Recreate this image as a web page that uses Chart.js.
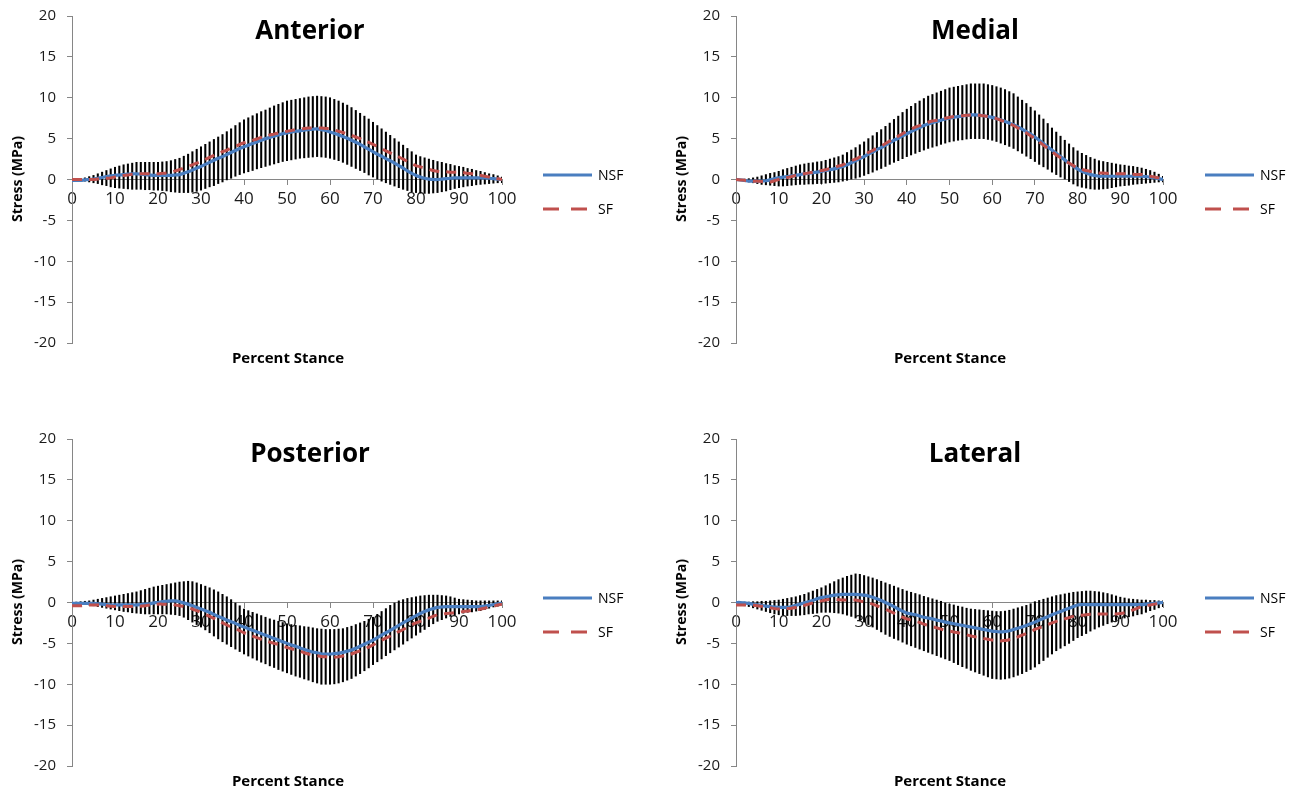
<!DOCTYPE html>
<html><head><meta charset="utf-8">
<script src="https://cdn.jsdelivr.net/npm/chart.js@4.4.1/dist/chart.umd.min.js"></script>
<style>
html,body{margin:0;padding:0;background:#fff;width:1300px;height:790px;overflow:hidden;font-family:'Open Sans',sans-serif;}
canvas{position:absolute;}
.title{position:absolute;font-weight:bold;font-size:26px;line-height:30px;color:#000;transform:translateX(-50%);white-space:nowrap;}
.xt{position:absolute;font-weight:bold;font-size:15px;line-height:16px;color:#000;transform:translateX(-50%);white-space:nowrap;}
.yt{position:absolute;font-weight:bold;font-size:14px;line-height:16px;color:#000;white-space:nowrap;transform:translate(-50%,-50%) rotate(-90deg);}
.legtxt{position:absolute;font-size:14px;line-height:16px;color:#000;white-space:nowrap;}
svg.leg{position:absolute;overflow:visible;}
</style>
</head><body>
<script>
// ---------- categories & ticks ----------
const pct = [0,1,2,3,4,5,6,7,8,9,10,11,12,13,14,15,16,17,18,19,20,21,22,23,24,25,26,27,28,29,30,31,32,33,34,35,36,37,38,39,40,41,42,43,44,45,46,47,48,49,50,51,52,53,54,55,56,57,58,59,60,61,62,63,64,65,66,67,68,69,70,71,72,73,74,75,76,77,78,79,80,81,82,83,84,85,86,87,88,89,90,91,92,93,94,95,96,97,98,99,100];
const xTicks = [0,10,20,30,40,50,60,70,80,90,100];
const yTicks = [-20,-15,-10,-5,0,5,10,15,20];
const panelTitles = ['Anterior','Medial','Posterior','Lateral'];
const seriesNames = ['NSF','SF'];

// ---------- Anterior ----------
const anteriorNSF = [
-0.1,-0.1,-0.1,-0.05,0.0,0.05,
0.15,0.25,0.35,0.45,0.5,
0.55,0.6,0.65,0.7,0.7,
0.65,0.6,0.55,0.5,0.5,
0.5,0.5,0.5,0.55,0.6,
0.75,0.95,1.15,1.4,1.6,
1.85,2.1,2.35,2.6,2.8,
3.05,3.3,3.55,3.8,4.0,
4.2,4.4,4.6,4.8,5.0,
5.15,5.3,5.45,5.6,5.7,
5.8,5.9,5.95,6.05,6.1,
6.15,6.2,6.1,6.0,5.8,
5.65,5.45,5.25,5.05,4.8,
4.55,4.3,4.0,3.7,3.4,
3.1,2.85,2.55,2.3,2.0,
1.7,1.4,1.05,0.75,0.5,
0.3,0.15,0.05,0.0,0.0,
0.05,0.1,0.15,0.2,0.2,
0.2,0.2,0.2,0.2,0.2,
0.2,0.15,0.1,0.05,0.0];
const anteriorSF = [
0.0,0.0,0.0,0.0,0.0,0.0,
0.05,0.1,0.15,0.2,0.3,
0.4,0.5,0.55,0.65,0.7,
0.7,0.7,0.7,0.7,0.7,
0.75,0.8,0.9,1.05,1.2,
1.4,1.6,1.8,2.0,2.2,
2.45,2.7,2.95,3.2,3.4,
3.6,3.85,4.05,4.3,4.5,
4.65,4.8,4.95,5.15,5.3,
5.45,5.55,5.7,5.8,5.9,
6.0,6.1,6.15,6.25,6.3,
6.3,6.3,6.3,6.25,6.2,
6.05,5.9,5.75,5.6,5.4,
5.2,5.0,4.75,4.55,4.3,
4.05,3.8,3.5,3.25,3.0,
2.75,2.5,2.2,1.95,1.7,
1.55,1.4,1.25,1.1,1.0,
0.95,0.95,0.9,0.9,0.9,
0.85,0.75,0.7,0.6,0.5,
0.4,0.3,0.2,0.1,0.0];
const anteriorHigh = [
0.0,0.05,0.1,0.2,0.35,0.5,
0.7,0.9,1.1,1.3,1.5,
1.65,1.8,1.9,2.0,2.1,
2.1,2.1,2.1,2.1,2.1,
2.15,2.2,2.3,2.45,2.6,
2.85,3.1,3.4,3.7,4.0,
4.3,4.6,4.9,5.2,5.5,
5.85,6.2,6.6,6.95,7.3,
7.55,7.8,8.05,8.3,8.5,
8.75,9.0,9.2,9.4,9.6,
9.7,9.8,9.9,10.0,10.1,
10.15,10.2,10.15,10.1,10.0,
9.8,9.6,9.35,9.1,8.8,
8.45,8.1,7.75,7.4,7.0,
6.6,6.2,5.8,5.4,5.0,
4.6,4.2,3.8,3.4,3.0,
2.8,2.65,2.5,2.35,2.2,
2.1,1.95,1.85,1.7,1.6,
1.5,1.35,1.25,1.1,1.0,
0.85,0.7,0.6,0.45,0.3];
const anteriorLow = [
0.0,-0.05,-0.1,-0.2,-0.3,-0.4,
-0.5,-0.65,-0.75,-0.9,-1.0,
-1.05,-1.1,-1.15,-1.2,-1.2,
-1.2,-1.25,-1.25,-1.3,-1.3,
-1.35,-1.4,-1.5,-1.55,-1.6,
-1.6,-1.6,-1.55,-1.45,-1.3,
-1.1,-0.9,-0.75,-0.5,-0.3,
-0.05,0.15,0.4,0.6,0.8,
0.95,1.1,1.3,1.45,1.6,
1.75,1.9,2.05,2.2,2.3,
2.4,2.5,2.6,2.65,2.7,
2.75,2.8,2.75,2.7,2.6,
2.45,2.3,2.1,1.85,1.6,
1.35,1.1,0.85,0.55,0.3,
0.05,-0.2,-0.4,-0.6,-0.8,
-1.0,-1.2,-1.35,-1.5,-1.6,
-1.65,-1.7,-1.7,-1.65,-1.6,
-1.5,-1.4,-1.25,-1.1,-1.0,
-0.9,-0.8,-0.75,-0.65,-0.6,
-0.55,-0.5,-0.45,-0.4,-0.4];

// ---------- Medial ----------
const medialNSF = [
0.0,-0.05,-0.1,-0.2,-0.2,-0.2,
-0.2,-0.15,-0.05,0.1,0.2,
0.3,0.35,0.45,0.5,0.6,
0.7,0.75,0.85,0.9,1.0,
1.1,1.2,1.3,1.45,1.6,
1.8,2.05,2.3,2.55,2.8,
3.1,3.35,3.65,3.9,4.2,
4.5,4.8,5.05,5.35,5.6,
5.85,6.1,6.35,6.6,6.8,
6.95,7.1,7.25,7.4,7.5,
7.6,7.7,7.75,7.85,7.9,
7.9,7.85,7.8,7.7,7.6,
7.45,7.3,7.1,6.9,6.7,
6.45,6.15,5.85,5.55,5.2,
4.8,4.4,4.0,3.6,3.2,
2.8,2.4,2.0,1.6,1.3,
1.0,0.8,0.6,0.5,0.4,
0.4,0.4,0.4,0.4,0.4,
0.4,0.4,0.4,0.4,0.4,
0.35,0.3,0.2,0.1,0.0];
const medialSF = [
0.0,-0.05,-0.1,-0.15,-0.2,-0.2,
-0.25,-0.3,-0.3,-0.15,0.0,
0.15,0.25,0.35,0.5,0.6,
0.7,0.8,0.9,1.0,1.1,
1.2,1.35,1.5,1.65,1.8,
2.05,2.3,2.5,2.75,3.0,
3.3,3.55,3.85,4.1,4.4,
4.7,5.0,5.3,5.6,5.9,
6.15,6.4,6.6,6.8,7.0,
7.15,7.25,7.4,7.5,7.6,
7.7,7.75,7.8,7.85,7.9,
7.9,7.85,7.8,7.7,7.6,
7.45,7.25,7.05,6.85,6.6,
6.3,6.0,5.7,5.35,5.0,
4.6,4.2,3.8,3.4,3.0,
2.65,2.3,2.0,1.7,1.4,
1.25,1.1,1.0,0.9,0.8,
0.8,0.75,0.75,0.7,0.7,
0.7,0.65,0.65,0.6,0.6,
0.5,0.4,0.3,0.2,0.1];
const medialHigh = [
0.0,0.0,0.05,0.1,0.2,0.3,
0.45,0.6,0.75,0.85,1.0,
1.2,1.35,1.5,1.65,1.8,
1.9,2.0,2.05,2.15,2.2,
2.35,2.5,2.65,2.8,3.0,
3.3,3.6,3.9,4.25,4.6,
5.0,5.35,5.75,6.1,6.5,
6.9,7.35,7.75,8.2,8.6,
8.95,9.3,9.6,9.9,10.2,
10.4,10.6,10.8,11.0,11.2,
11.3,11.4,11.5,11.6,11.7,
11.7,11.7,11.7,11.6,11.5,
11.35,11.2,11.0,10.75,10.5,
10.1,9.7,9.3,8.85,8.4,
7.9,7.4,6.85,6.3,5.8,
5.3,4.8,4.35,3.9,3.5,
3.2,2.95,2.7,2.5,2.3,
2.2,2.1,2.0,1.9,1.8,
1.75,1.65,1.6,1.5,1.4,
1.25,1.1,0.9,0.65,0.4];
const medialLow = [
0.0,-0.1,-0.2,-0.3,-0.4,-0.5,
-0.6,-0.65,-0.7,-0.75,-0.8,
-0.8,-0.75,-0.7,-0.65,-0.6,
-0.6,-0.55,-0.55,-0.5,-0.5,
-0.45,-0.4,-0.35,-0.3,-0.2,
-0.1,0.05,0.15,0.3,0.5,
0.7,0.9,1.15,1.35,1.6,
1.85,2.1,2.3,2.55,2.8,
3.0,3.2,3.4,3.6,3.8,
3.95,4.1,4.3,4.45,4.6,
4.7,4.8,4.85,4.95,5.0,
5.0,5.0,5.0,4.9,4.8,
4.65,4.45,4.25,4.05,3.8,
3.5,3.2,2.85,2.55,2.2,
1.85,1.55,1.25,0.9,0.6,
0.3,0.0,-0.25,-0.55,-0.8,
-0.95,-1.05,-1.15,-1.2,-1.2,
-1.15,-1.1,-1.0,-0.9,-0.8,
-0.75,-0.7,-0.6,-0.55,-0.5,
-0.45,-0.4,-0.35,-0.3,-0.3];

// ---------- Posterior ----------
const posteriorNSF = [
-0.1,-0.1,-0.1,-0.1,-0.1,-0.1,
-0.15,-0.2,-0.25,-0.3,-0.3,
-0.3,-0.3,-0.3,-0.3,-0.3,
-0.25,-0.2,-0.15,-0.05,0.0,
0.1,0.15,0.2,0.2,0.1,
-0.05,-0.2,-0.4,-0.6,-0.8,
-1.0,-1.2,-1.45,-1.7,-1.9,
-2.15,-2.35,-2.55,-2.8,-3.0,
-3.2,-3.4,-3.6,-3.8,-4.0,
-4.2,-4.4,-4.6,-4.8,-5.0,
-5.2,-5.35,-5.55,-5.75,-5.9,
-6.05,-6.15,-6.3,-6.3,-6.3,
-6.25,-6.2,-6.1,-5.95,-5.8,
-5.6,-5.35,-5.1,-4.85,-4.6,
-4.3,-4.0,-3.7,-3.4,-3.1,
-2.8,-2.5,-2.2,-1.9,-1.6,
-1.35,-1.1,-0.9,-0.75,-0.6,
-0.55,-0.5,-0.5,-0.5,-0.5,
-0.5,-0.5,-0.5,-0.5,-0.5,
-0.45,-0.35,-0.25,-0.15,-0.1];
const posteriorSF = [
-0.4,-0.4,-0.4,-0.35,-0.3,-0.3,
-0.3,-0.35,-0.4,-0.45,-0.5,
-0.5,-0.5,-0.5,-0.5,-0.5,
-0.45,-0.4,-0.3,-0.25,-0.2,
-0.2,-0.2,-0.2,-0.3,-0.4,
-0.5,-0.65,-0.8,-1.0,-1.2,
-1.45,-1.7,-1.95,-2.25,-2.5,
-2.75,-3.0,-3.2,-3.45,-3.7,
-3.9,-4.1,-4.3,-4.5,-4.7,
-4.85,-5.0,-5.15,-5.35,-5.5,
-5.65,-5.8,-5.95,-6.15,-6.3,
-6.4,-6.5,-6.6,-6.65,-6.7,
-6.7,-6.65,-6.55,-6.45,-6.3,
-6.1,-5.9,-5.7,-5.45,-5.2,
-4.9,-4.65,-4.35,-4.1,-3.8,
-3.55,-3.3,-3.0,-2.75,-2.5,
-2.3,-2.1,-1.9,-1.7,-1.5,
-1.45,-1.35,-1.3,-1.25,-1.2,
-1.1,-1.05,-0.95,-0.9,-0.8,
-0.7,-0.55,-0.45,-0.3,-0.2];
const posteriorHigh = [
0.0,0.05,0.1,0.15,0.2,0.3,
0.4,0.5,0.6,0.7,0.8,
0.9,1.0,1.1,1.2,1.3,
1.45,1.6,1.75,1.9,2.0,
2.1,2.2,2.3,2.4,2.5,
2.55,2.6,2.55,2.4,2.2,
2.0,1.8,1.55,1.3,1.0,
0.7,0.35,0.0,-0.4,-0.8,
-1.0,-1.2,-1.4,-1.6,-1.8,
-2.0,-2.15,-2.3,-2.45,-2.6,
-2.7,-2.8,-2.85,-2.95,-3.0,
-3.1,-3.2,-3.25,-3.3,-3.3,
-3.3,-3.25,-3.2,-3.05,-2.9,
-2.7,-2.5,-2.3,-2.05,-1.8,
-1.45,-1.1,-0.75,-0.35,0.0,
0.2,0.35,0.5,0.6,0.7,
0.8,0.85,0.9,0.9,0.9,
0.85,0.8,0.7,0.55,0.4,
0.35,0.3,0.25,0.2,0.2,
0.2,0.2,0.2,0.2,0.2];
const posteriorLow = [
0.0,-0.1,-0.15,-0.25,-0.3,-0.4,
-0.5,-0.6,-0.7,-0.8,-0.9,
-1.0,-1.1,-1.15,-1.25,-1.3,
-1.35,-1.4,-1.4,-1.4,-1.4,
-1.4,-1.4,-1.45,-1.5,-1.6,
-1.8,-2.1,-2.4,-2.7,-3.0,
-3.35,-3.7,-4.1,-4.45,-4.8,
-5.1,-5.4,-5.7,-6.0,-6.3,
-6.55,-6.8,-7.05,-7.3,-7.5,
-7.75,-7.95,-8.2,-8.4,-8.6,
-8.8,-9.0,-9.15,-9.35,-9.5,
-9.7,-9.85,-10.0,-10.0,-10.0,
-9.95,-9.85,-9.7,-9.5,-9.3,
-9.0,-8.7,-8.35,-8.0,-7.6,
-7.25,-6.9,-6.5,-6.15,-5.8,
-5.45,-5.1,-4.7,-4.35,-4.0,
-3.65,-3.3,-2.95,-2.6,-2.3,
-2.1,-1.9,-1.7,-1.55,-1.4,
-1.3,-1.2,-1.15,-1.05,-1.0,
-0.85,-0.7,-0.55,-0.45,-0.3];

// ---------- Lateral ----------
const lateralNSF = [
0.0,0.0,-0.05,-0.1,-0.2,-0.3,
-0.35,-0.45,-0.5,-0.55,-0.6,
-0.6,-0.6,-0.5,-0.35,-0.2,
-0.05,0.1,0.25,0.45,0.6,
0.7,0.8,0.9,0.95,1.0,
1.0,1.0,1.0,0.95,0.9,
0.8,0.65,0.45,0.25,0.0,
-0.25,-0.5,-0.8,-1.05,-1.3,
-1.4,-1.5,-1.65,-1.8,-1.9,
-2.0,-2.15,-2.25,-2.4,-2.5,
-2.6,-2.7,-2.8,-2.9,-3.0,
-3.1,-3.2,-3.3,-3.4,-3.5,
-3.55,-3.6,-3.55,-3.45,-3.3,
-3.15,-3.0,-2.8,-2.6,-2.4,
-2.15,-1.95,-1.75,-1.5,-1.3,
-1.1,-0.9,-0.7,-0.5,-0.3,
-0.25,-0.25,-0.25,-0.25,-0.25,
-0.25,-0.25,-0.25,-0.25,-0.25,
-0.25,-0.25,-0.25,-0.25,-0.25,
-0.2,-0.15,-0.1,-0.05,0.0];
const lateralSF = [
-0.3,-0.3,-0.3,-0.35,-0.35,-0.4,
-0.45,-0.55,-0.65,-0.75,-0.8,
-0.8,-0.75,-0.7,-0.6,-0.5,
-0.35,-0.2,-0.05,0.1,0.2,
0.3,0.4,0.4,0.35,0.3,
0.3,0.3,0.3,0.2,0.1,
-0.05,-0.2,-0.4,-0.6,-0.8,
-1.05,-1.3,-1.55,-1.8,-2.0,
-2.15,-2.3,-2.45,-2.65,-2.8,
-2.95,-3.1,-3.25,-3.4,-3.5,
-3.6,-3.7,-3.85,-3.95,-4.1,
-4.2,-4.3,-4.4,-4.5,-4.6,
-4.65,-4.7,-4.65,-4.55,-4.4,
-4.2,-4.0,-3.8,-3.6,-3.3,
-3.1,-2.9,-2.7,-2.5,-2.3,
-2.15,-2.0,-1.85,-1.7,-1.6,
-1.55,-1.5,-1.45,-1.4,-1.4,
-1.4,-1.4,-1.4,-1.4,-1.35,
-1.25,-1.1,-0.9,-0.7,-0.5,
-0.4,-0.3,-0.2,-0.15,-0.1];
const lateralHigh = [
0.0,0.0,0.05,0.05,0.1,0.1,
0.15,0.15,0.2,0.25,0.3,
0.4,0.5,0.6,0.7,0.85,
1.0,1.2,1.4,1.6,1.8,
2.05,2.3,2.55,2.8,3.0,
3.2,3.35,3.5,3.45,3.3,
3.15,3.0,2.8,2.6,2.4,
2.2,2.0,1.8,1.6,1.4,
1.25,1.1,0.95,0.75,0.6,
0.45,0.3,0.15,0.0,-0.2,
-0.3,-0.45,-0.55,-0.7,-0.8,
-0.85,-0.9,-0.95,-1.0,-1.05,
-1.1,-1.1,-1.05,-0.95,-0.8,
-0.65,-0.5,-0.35,-0.15,0.1,
0.25,0.4,0.55,0.7,0.85,
0.95,1.05,1.15,1.25,1.3,
1.35,1.4,1.4,1.35,1.3,
1.2,1.1,0.95,0.8,0.65,
0.55,0.45,0.4,0.35,0.3,
0.3,0.25,0.25,0.2,0.2];
const lateralLow = [
-0.2,-0.3,-0.4,-0.5,-0.65,-0.8,
-0.95,-1.1,-1.25,-1.4,-1.5,
-1.55,-1.6,-1.6,-1.6,-1.55,
-1.5,-1.4,-1.35,-1.3,-1.2,
-1.2,-1.2,-1.25,-1.3,-1.4,
-1.55,-1.7,-1.9,-2.15,-2.4,
-2.7,-3.0,-3.3,-3.6,-3.9,
-4.15,-4.4,-4.6,-4.85,-5.1,
-5.3,-5.5,-5.7,-5.9,-6.1,
-6.3,-6.5,-6.7,-6.9,-7.1,
-7.35,-7.6,-7.85,-8.05,-8.3,
-8.5,-8.7,-8.9,-9.1,-9.3,
-9.35,-9.4,-9.35,-9.25,-9.1,
-8.9,-8.7,-8.45,-8.2,-7.9,
-7.5,-7.1,-6.7,-6.3,-5.9,
-5.6,-5.3,-5.0,-4.65,-4.3,
-4.05,-3.8,-3.5,-3.25,-3.0,
-2.8,-2.6,-2.4,-2.2,-2.0,
-1.9,-1.75,-1.65,-1.5,-1.4,
-1.2,-1.0,-0.85,-0.65,-0.5];

// ---------- layout / styling ----------
const BLUE = '#4A7EC0', RED = '#C0504D', AXIS = '#868686';
const FONT = "'Open Sans', sans-serif";
const panels = [
  {title: panelTitles[0], nsf: anteriorNSF, sf: anteriorSF, hi: anteriorHigh, lo: anteriorLow, left: 0,   top: 0,   axisW: 72, padR: 148, titleX: 310, xtX: 288, ytX: 17,  legX: 543},
  {title: panelTitles[1], nsf: medialNSF,   sf: medialSF,   hi: medialHigh,   lo: medialLow,   left: 650, top: 0,   axisW: 86, padR: 137, titleX: 975, xtX: 950, ytX: 681, legX: 1205},
  {title: panelTitles[2], nsf: posteriorNSF,sf: posteriorSF,hi: posteriorHigh,lo: posteriorLow,left: 0,   top: 423, axisW: 72, padR: 148, titleX: 310, xtX: 288, ytX: 17,  legX: 543},
  {title: panelTitles[3], nsf: lateralNSF,  sf: lateralSF,  hi: lateralHigh,  lo: lateralLow,  left: 650, top: 423, axisW: 86, padR: 137, titleX: 975, xtX: 950, ytX: 681, legX: 1205}
];
const CW = 650, CH = 380, CANVAS_SHIFT = -4;

function addDiv(cls, text, style) {
  const d = document.createElement('div');
  d.className = cls; d.textContent = text;
  Object.assign(d.style, style);
  document.body.appendChild(d);
  return d;
}

panels.forEach(p => {
  const c = document.createElement('canvas');
  c.width = CW; c.height = CH;
  c.style.left = p.left + 'px'; c.style.top = (p.top + CANVAS_SHIFT) + 'px';
  c.style.width = CW + 'px'; c.style.height = CH + 'px';
  document.body.appendChild(c);

  new Chart(c.getContext('2d'), {
    type: 'line',
    data: {
      labels: pct,
      datasets: [
        {label: seriesNames[1], data: p.sf, borderColor: RED, borderWidth: 3, borderDash: [10, 7],
         pointRadius: 0, tension: 0.4, fill: false, order: 1},
        {label: seriesNames[0], data: p.nsf, borderColor: BLUE, borderWidth: 3.2,
         pointRadius: 0, tension: 0.4, fill: false, order: 2},
        {type: 'bar', label: 'SD', data: pct.map((x, i) => ({x: x, y: [p.lo[i], p.hi[i]]})),
         backgroundColor: '#000', borderWidth: 0, barThickness: 1.4, grouped: false, order: 3}
      ]
    },
    options: {
      responsive: false, animation: false, devicePixelRatio: 1,
      layout: {padding: {left: 0, top: 14, right: p.padR, bottom: 33}},
      plugins: {legend: {display: false}, tooltip: {enabled: false}, title: {display: false}},
      scales: {
        x: {
          type: 'linear', min: 0, max: 100, offset: false,
          position: {y: 0},
          afterBuildTicks: s => { s.ticks = xTicks.map(v => ({value: v})); },
          afterFit: s => { s.height = 20; },
          grid: {drawOnChartArea: false, drawTicks: true, tickLength: 5, color: AXIS, offset: false},
          border: {display: true, color: AXIS, width: 1},
          ticks: {color: '#1a1a1a', font: {family: FONT, size: 17}, padding: 4, maxRotation: 0, autoSkip: false}
        },
        y: {
          type: 'linear', min: -20, max: 20,
          afterBuildTicks: s => { s.ticks = yTicks.map(v => ({value: v})); },
          afterFit: s => { s.width = p.axisW; },
          grid: {drawOnChartArea: false, drawTicks: true, tickLength: 5, color: AXIS},
          border: {display: true, color: AXIS, width: 1},
          ticks: {color: '#1a1a1a', font: {family: FONT, size: 15}, padding: 11}
        }
      }
    }
  });

  addDiv('title', p.title, {left: p.titleX + 'px', top: (p.top + 14) + 'px'});
  addDiv('xt', 'Percent Stance', {left: p.xtX + 'px', top: (p.top + 349) + 'px'});
  addDiv('yt', 'Stress (MPa)', {left: p.ytX + 'px', top: (p.top + 179) + 'px'});

  // legend
  const ns = 'http://www.w3.org/2000/svg';
  const svg = document.createElementNS(ns, 'svg');
  svg.setAttribute('class', 'leg');
  svg.setAttribute('width', '50'); svg.setAttribute('height', '40');
  svg.style.left = p.legX + 'px'; svg.style.top = (p.top + 173) + 'px';
  const l1 = document.createElementNS(ns, 'line');
  l1.setAttribute('x1', 0); l1.setAttribute('x2', 49); l1.setAttribute('y1', 2); l1.setAttribute('y2', 2);
  l1.setAttribute('stroke', BLUE); l1.setAttribute('stroke-width', 3);
  const l2 = document.createElementNS(ns, 'line');
  l2.setAttribute('x1', 0); l2.setAttribute('x2', 49); l2.setAttribute('y1', 36); l2.setAttribute('y2', 36);
  l2.setAttribute('stroke', RED); l2.setAttribute('stroke-width', 3); l2.setAttribute('stroke-dasharray', '16 12');
  svg.appendChild(l1); svg.appendChild(l2);
  document.body.appendChild(svg);
  addDiv('legtxt', seriesNames[0], {left: (p.legX + 55) + 'px', top: (p.top + 167) + 'px'});
  addDiv('legtxt', seriesNames[1], {left: (p.legX + 55) + 'px', top: (p.top + 201) + 'px'});
});
</script>
</body></html>
